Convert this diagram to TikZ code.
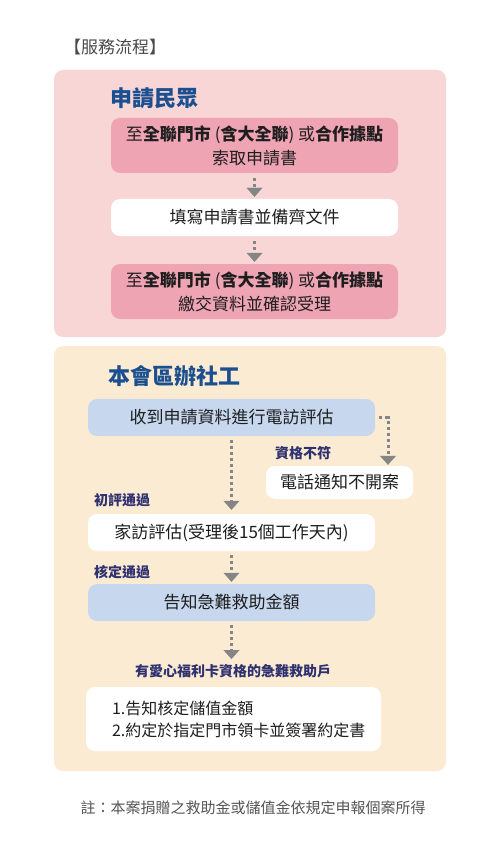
\documentclass[tikz,border=0pt]{standalone}
\usepackage{fontspec}
\setmainfont{Noto Sans CJK TC}
\usetikzlibrary{arrows.meta,calc}
\definecolor{pinkpanel}{HTML}{F9D6D6}
\definecolor{pinkbox}{HTML}{EFA4B4}
\definecolor{yellowpanel}{HTML}{FCEBD3}
\definecolor{bluebox}{HTML}{C6D7EE}
\definecolor{arrowgray}{HTML}{858585}
\definecolor{titleblue}{HTML}{1B4F8F}
\definecolor{labelnavy}{HTML}{2E3170}
\definecolor{textdark}{HTML}{1E1E1E}
\definecolor{notegray}{HTML}{555555}
\tikzset{
  panel/.style={rounded corners=9pt, inner sep=0pt},
  boxbase/.style={rounded corners=9pt, inner sep=0pt, text=textdark, font=\fontsize{17}{24}\selectfont, align=center},
  flow/.style={draw=arrowgray, line width=3pt, line cap=butt, dash pattern=on 3pt off 3pt,
    -{Triangle[width=16pt,length=9pt,fill=arrowgray,line width=0.4pt]}},
  titletext/.style={text=titleblue, font=\fontsize{22}{26}\selectfont\bfseries, anchor=west, inner sep=0pt},
  labeltext/.style={text=labelnavy, font=\fontsize{14}{16}\selectfont\bfseries, inner sep=0pt},
}
\begin{document}
\begin{tikzpicture}[x=1pt,y=-1pt]
\useasboundingbox[fill=white] (0,0) rectangle (500,850);
% header
\node[anchor=west, inner sep=0pt, text=textdark!80, font=\fontsize{17}{20}\selectfont] (head) at (64,47) {【服務流程】};
% panel 1
\node[panel, fill=pinkpanel, minimum width=392pt, minimum height=267pt] (p1) at (250,203.5) {};
\node[titletext] (t1) at (110,98) {申請民眾};
\node[boxbase, fill=pinkbox, minimum width=287pt, minimum height=55pt] (b1) at (254.5,145.5)
  {至\textbf{全聯門市} (\textbf{含大全聯}) 或\textbf{合作據點}\\索取申請書};
\node[boxbase, fill=white, minimum width=287pt, minimum height=37pt] (b2) at (254.5,217.5) {填寫申請書並備齊文件};
\node[boxbase, fill=pinkbox, minimum width=287pt, minimum height=55pt] (b3) at (254.5,291.5)
  {至\textbf{全聯門市} (\textbf{含大全聯}) 或\textbf{合作據點}\\繳交資料並確認受理};
\draw[flow, shorten <=5pt, shorten >=2pt] (b1.south) -- (b2.north);
\draw[flow, shorten <=5pt, shorten >=2pt] (b2.south) -- (b3.north);
% panel 2
\node[panel, fill=yellowpanel, minimum width=392pt, minimum height=425pt] (p2) at (250,558.5) {};
\node[titletext] (t2) at (108,376) {本會區辦社工};
\node[boxbase, fill=bluebox, minimum width=287pt, minimum height=37pt] (b4) at (231.5,417.5) {收到申請資料進行電訪評估};
\node[boxbase, fill=white, minimum width=147pt, minimum height=33pt] (b5) at (339.5,482.5) {電話通知不開案};
\node[boxbase, fill=white, minimum width=287pt, minimum height=37pt] (b6) at (231.5,532.5) {家訪評估(受理後15個工作天內)};
\node[boxbase, fill=bluebox, minimum width=287pt, minimum height=37pt] (b7) at (231.5,602.5) {告知急難救助金額};
\node[boxbase, fill=white, minimum width=295pt, minimum height=64pt, text width=275pt, inner xsep=10pt, align=left,
  font=\fontsize{16}{22}\selectfont] (b8) at (233.5,719) {\hspace*{16pt}1.告知核定儲值金額\\\hspace*{16pt}2.約定於指定門市領卡並簽署約定書};
\node[labeltext, anchor=west] (l1) at (275,453) {資格不符};
\node[labeltext, anchor=west] (l2) at (94,500) {初評通過};
\node[labeltext, anchor=west] (l3) at (94,572) {核定通過};
\node[labeltext] (l4) at (233,671) {有愛心福利卡資格的急難救助戶};
\coordinate (rx) at (388,0);
\draw[flow, shorten <=4pt, shorten >=1pt] (b4.east) -| (rx |- b5.north);
\draw[flow, shorten <=4pt, shorten >=4pt] (b4.south) -- (b6.north);
\draw[flow, shorten <=4pt, shorten >=2pt] (b6.south) -- (b7.north);
\coordinate (b8top) at (231.5,659);
\draw[flow, shorten <=4pt] (b7.south) -- (b8top);
% note
\node[inner sep=0pt, text=notegray, font=\fontsize{15}{18}\selectfont] (note) at (253,808) {註：本案捐贈之救助金或儲值金依規定申報個案所得};
\end{tikzpicture}
\end{document}
